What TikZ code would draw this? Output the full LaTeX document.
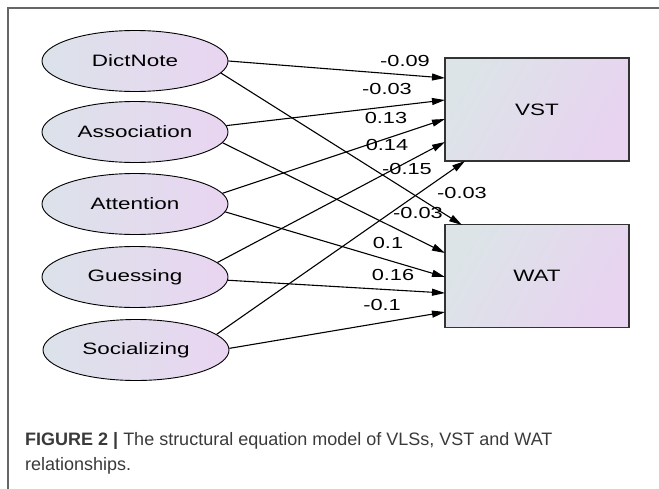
\documentclass[tikz,border=0pt]{standalone}
\usepackage{fontspec}
\setmainfont{Liberation Sans}
\usetikzlibrary{arrows.meta,shapes.geometric}
\definecolor{elA}{HTML}{DCE2EA}
\definecolor{elB}{HTML}{E9D5F1}
\definecolor{bxA}{HTML}{DCE4E8}
\definecolor{bxB}{HTML}{E8D3F0}
\definecolor{framec}{HTML}{666666}
\definecolor{capc}{HTML}{3A3A3A}
\newcommand{\wtxt}[1]{\scalebox{1.36}[1]{#1}}
\begin{document}
\begin{tikzpicture}[x=1pt,y=-1pt,
  latent/.style={ellipse, draw=black, line width=0.9pt, minimum width=186pt, minimum height=61pt, inner sep=0pt, left color=elA, right color=elB, font=\fontsize{16.5}{19}\selectfont},
  observed/.style={rectangle, draw=black!80, line width=1.4pt, minimum width=184pt, minimum height=103pt, inner sep=0pt, left color=bxA, right color=bxB, shading angle=60, font=\fontsize{16.5}{19}\selectfont},
  regr/.style={line width=1.1pt, -{Triangle[length=13pt,width=7pt]}},
  coef/.style={inner sep=0pt, font=\fontsize{16}{19}\selectfont},
  capt/.style={anchor=base west, inner sep=0pt, text=capc, font=\fontsize{18}{21}\selectfont}
]
\useasboundingbox (0,0) rectangle (659,488);
\draw[framec, line width=1.5pt] (8,489) -- (8,8) -- (660,8);

\node[latent] (dict) at (135,61) {\wtxt{DictNote}};
\node[latent] (assoc) at (135,132) {\wtxt{Association}};
\node[latent] (atten) at (135,204) {\wtxt{Attention}};
\node[latent] (guess) at (135,277) {\wtxt{Guessing}};
\node[latent] (social) at (136,350) {\wtxt{Socializing}};

\node[observed] (vst) at (537,109.5) {\wtxt{VST}};
\node[observed] (wat) at (537,276) {\wtxt{WAT}};

\coordinate (v1) at (445,78);
\coordinate (v2) at (445,100);
\coordinate (v3) at (445,119);
\coordinate (v4) at (445,142);
\coordinate (v5) at (465,161);
\coordinate (w1) at (462,225);
\coordinate (w2) at (445,253);
\coordinate (w3) at (445,277);
\coordinate (w4) at (445,293);
\coordinate (w5) at (445,312);

\draw[regr] (dict.0) -- (v1);
\draw[regr] (dict.-8) -- (w1);
\draw[regr] (assoc.4) -- (v2);
\draw[regr] (assoc.-7) -- (w2);
\draw[regr] (atten.7) -- (v3);
\draw[regr] (atten.-5) -- (w3);
\draw[regr] (guess.10) -- (v4);
\draw[regr] (guess.-2) -- (w4);
\draw[regr] (social.11) -- (v5);
\draw[regr] (social.1) -- (w5);

\node[coef] (c1) at (405,61) {\wtxt{-0.09}};
\node[coef] (c2) at (387,89) {\wtxt{-0.03}};
\node[coef] (c3) at (386,118) {\wtxt{0.13}};
\node[coef] (c4) at (387,145) {\wtxt{0.14}};
\node[coef] (c5) at (407,169) {\wtxt{-0.15}};
\node[coef] (c6) at (462,193) {\wtxt{-0.03}};
\node[coef] (c7) at (418,213) {\wtxt{-0.03}};
\node[coef] (c8) at (388,243) {\wtxt{0.1}};
\node[coef] (c9) at (393,275) {\wtxt{0.16}};
\node[coef] (c10) at (382,305) {\wtxt{-0.1}};

\node[capt] (cap1) at (25,445) {\textbf{FIGURE 2 |} The structural equation model of VLSs, VST and WAT};
\node[capt] (cap2) at (25,470) {relationships.};
\end{tikzpicture}
\end{document}
